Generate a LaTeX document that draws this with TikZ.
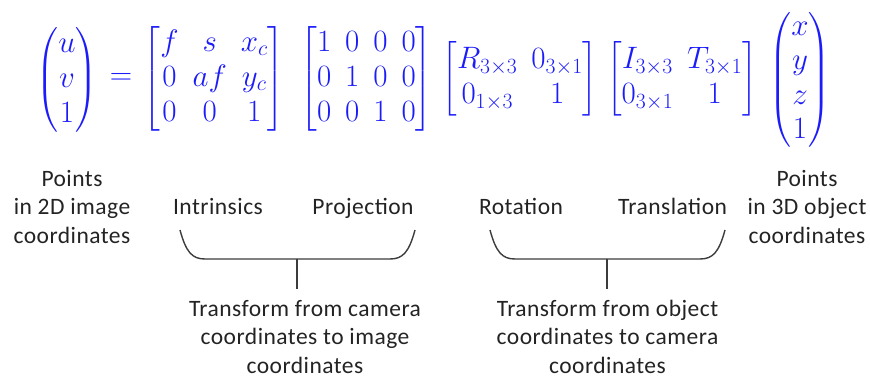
\RequirePackage{fix-cm}
\documentclass[tikz,border=0pt]{standalone}
\usepackage{amsmath}
\usepackage{fontspec}
\newfontfamily\labfont[LetterSpace=2]{Carlito}
\definecolor{eqblue}{RGB}{28,28,250}
\definecolor{ink}{RGB}{35,35,35}
\definecolor{bracecol}{RGB}{60,60,60}
\setlength{\arraycolsep}{7pt}
\tikzset{
  eq/.style={inner sep=0pt, text=eqblue, font=\fontsize{31}{35}\selectfont},
  lab/.style={inner sep=0pt, text=ink, align=center, font=\labfont\fontsize{23.5}{28.5}\selectfont},
  brace/.style={draw=bracecol, line width=1.4pt}
}
\begin{document}
\begin{tikzpicture}[x=1pt,y=-1pt]
\useasboundingbox (0,0) rectangle (870,383);

% the projection equation, one factor per node
\node[eq] (lhs) at (67,80) {$\begin{pmatrix} u\\ v\\ 1\end{pmatrix}$};
\node[eq] (eqs) at (121,79) {$=$};
\node[eq] (K) at (214,79) {$\begin{bmatrix} f & s & x_c\\ 0 & af & y_c\\ 0 & 0 & 1\end{bmatrix}$};
\node[eq] (P) at (366.5,79) {$\begin{bmatrix} 1 & 0 & 0 & 0\\ 0 & 1 & 0 & 0\\ 0 & 0 & 1 & 0\end{bmatrix}$};
\node[eq] (R) at (520,79) {$\begin{bmatrix} R_{3\times3} & 0_{3\times1}\\ 0_{1\times3} & 1\end{bmatrix}$};
\node[eq] (T) at (682,79) {$\begin{bmatrix} I_{3\times3} & T_{3\times1}\\ 0_{3\times1} & 1\end{bmatrix}$};
\node[eq, font=\fontsize{31}{34.5}\selectfont] (X) at (800,80) {$\begin{pmatrix} x\\ y\\ z\\ 1\end{pmatrix}$};

% labels under the factors (multi-line nodes sit on their last baseline)
\node[lab, anchor=base] (img) at (72,243) {Points\\in 2D image\\coordinates};
\node[lab, anchor=base] (intr) at (218,214) {Intrinsics};
\node[lab, anchor=base] (proj) at (363,214) {Projection};
\node[lab, anchor=base] (rot) at (521,214) {Rotation};
\node[lab, anchor=base] (tra) at (672.5,214) {Translation};
\node[lab, anchor=base] (obj) at (807,243) {Points\\in 3D object\\coordinates};

% braces grouping the factors
\coordinate (b1l) at (180,230);
\coordinate (b1r) at (415,230);
\coordinate (b1m) at (297,259);
\coordinate (b1s) at (297,289);
\draw[brace] (b1l) .. controls (186,252) and (192,259) .. (205,259) -- (390,259)
  .. controls (403,259) and (409,252) .. (b1r);
\draw[brace] (b1m) -- (b1s);

\coordinate (b2l) at (490,230);
\coordinate (b2r) at (725,230);
\coordinate (b2m) at (607,259);
\coordinate (b2s) at (607,289);
\draw[brace] (b2l) .. controls (496,252) and (502,259) .. (515,259) -- (700,259)
  .. controls (713,259) and (719,252) .. (b2r);
\draw[brace] (b2m) -- (b2s);

\node[lab, anchor=base] (camimg) at (305,373) {Transform from camera\\coordinates to image\\coordinates};
\node[lab, anchor=base] (objcam) at (607.5,373) {Transform from object\\coordinates to camera\\coordinates};
\end{tikzpicture}
\end{document}
